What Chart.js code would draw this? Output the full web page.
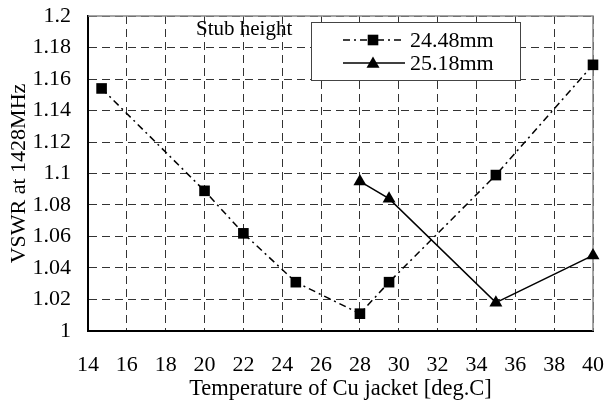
<!DOCTYPE html>
<html>
<head>
<meta charset="utf-8">
<script src="https://cdn.jsdelivr.net/npm/chart.js@4/dist/chart.umd.min.js"></script>
<style>
  html, body { margin: 0; padding: 0; background: #fff; }
  #wrap { width: 608px; height: 401px; }
</style>
</head>
<body>
<div id="wrap"><canvas id="c"></canvas></div>
<script>
// Datos
const tempA = [14.7, 20, 22, 24.7, 28, 29.5, 35, 40];
const vswrA = [1.154, 1.089, 1.062, 1.031, 1.011, 1.031, 1.099, 1.169];
const tempB = [28, 29.5, 35, 40];
const vswrB = [1.095, 1.084, 1.018, 1.048];
const labelA = '24.48mm';
const labelB = '25.18mm';
const legendTitle = 'Stub height';
const xTitle = 'Temperature of Cu jacket [deg.C]';
const yTitle = 'VSWR at 1428MHz';

const FONT = '"Liberation Serif", "Times New Roman", serif';
const dashDot = [7, 4, 2, 4];

function toPoints(xs, ys) {
  return xs.map((x, i) => ({ x: x, y: ys[i] }));
}

// Marco gris arriba/derecha
const frame = {
  id: 'frame',
  beforeDatasetsDraw(chart) {
    const { ctx, chartArea: a } = chart;
    ctx.save();
    ctx.strokeStyle = '#888';
    ctx.lineWidth = 1.5;
    ctx.beginPath();
    ctx.moveTo(a.left, a.top);
    ctx.lineTo(a.right, a.top);
    ctx.lineTo(a.right, a.bottom);
    ctx.stroke();
    ctx.restore();
  }
};

function marker(ctx, type, x, y, r) {
  ctx.beginPath();
  if (type === 'rect') {
    const s = Math.SQRT1_2 * r;
    ctx.rect(x - s, y - s, 2 * s, 2 * s);
  } else {
    ctx.moveTo(x, y - r);
    ctx.lineTo(x + r * Math.sin(Math.PI / 3), y + r / 2);
    ctx.lineTo(x - r * Math.sin(Math.PI / 3), y + r / 2);
    ctx.closePath();
  }
  ctx.fill();
}

// Leyenda dentro del area
const legendBox = {
  id: 'legendBox',
  afterDraw(chart) {
    const ctx = chart.ctx;
    ctx.save();
    ctx.font = '21px ' + FONT;
    ctx.fillStyle = '#000';
    ctx.textBaseline = 'middle';
    ctx.fillText(legendTitle, 196, 29);

    ctx.fillStyle = '#fff';
    ctx.fillRect(311, 22, 209, 58);
    ctx.strokeStyle = '#444';
    ctx.lineWidth = 1;
    ctx.strokeRect(311.5, 22.5, 209, 58);

    const rows = [40, 63];
    chart.data.datasets.forEach((ds, i) => {
      const y = rows[i];
      ctx.strokeStyle = '#000';
      ctx.lineWidth = 1.5;
      ctx.setLineDash(ds.borderDash || []);
      ctx.beginPath();
      ctx.moveTo(343, y);
      ctx.lineTo(405, y);
      ctx.stroke();
      ctx.setLineDash([]);
      ctx.fillStyle = '#000';
      marker(ctx, ds.pointStyle, 373, ds.pointStyle === 'triangle' ? y + 1 : y, ds.pointRadius);
      ctx.font = '22px ' + FONT;
      ctx.fillText(ds.label, 410, y + 1);
    });
    ctx.restore();
  }
};

new Chart(document.getElementById('c'), {
  type: 'line',
  data: {
    datasets: [
      {
        label: labelA,
        data: toPoints(tempA, vswrA),
        borderColor: '#000',
        backgroundColor: '#000',
        borderWidth: 1.5,
        borderDash: dashDot,
        pointStyle: 'rect',
        pointRadius: 7.5,
        pointBorderWidth: 0,
        tension: 0,
        clip: false
      },
      {
        label: labelB,
        data: toPoints(tempB, vswrB),
        borderColor: '#000',
        backgroundColor: '#000',
        borderWidth: 1.5,
        pointStyle: 'triangle',
        pointRadius: 7.5,
        pointBorderWidth: 0,
        tension: 0,
        clip: false
      }
    ]
  },
  options: {
    responsive: true,
    maintainAspectRatio: false,
    animation: false,
    layout: { padding: { top: 16, right: 15, left: 0, bottom: 0 } },
    plugins: {
      legend: { display: false },
      tooltip: { enabled: false }
    },
    scales: {
      x: {
        type: 'linear',
        min: 14,
        max: 40,
        ticks: {
          stepSize: 2,
          color: '#000',
          padding: 21,
          maxRotation: 0,
          font: { family: FONT, size: 22 }
        },
        grid: { color: '#333', lineWidth: 1, drawTicks: false },
        border: { display: true, color: '#000', width: 2, dash: [8, 5] },
        title: {
          display: true,
          text: xTitle,
          color: '#000',
          font: { family: FONT, size: 22.5, lineHeight: 1 },
          padding: { top: 0, bottom: 1 }
        },
        afterFit(scale) {
          scale.height = 70;
          scale.paddingLeft = 0;
          scale.paddingRight = 0;
        }
      },
      y: {
        min: 1,
        max: 1.2,
        ticks: {
          stepSize: 0.02,
          color: '#000',
          padding: 17,
          font: { family: FONT, size: 22 },
          callback: (v) => String(+Number(v).toFixed(2))
        },
        grid: { color: '#333', lineWidth: 1, drawTicks: false },
        border: { display: true, color: '#000', width: 2, dash: [8, 5] },
        title: {
          display: true,
          text: yTitle,
          color: '#000',
          font: { family: FONT, size: 22 },
          padding: { top: 6, bottom: 0 }
        },
        afterFit(scale) {
          scale.width = 88;
          scale.paddingTop = 0;
          scale.paddingBottom = 0;
        }
      }
    }
  },
  plugins: [frame, legendBox]
});
</script>
</body>
</html>
